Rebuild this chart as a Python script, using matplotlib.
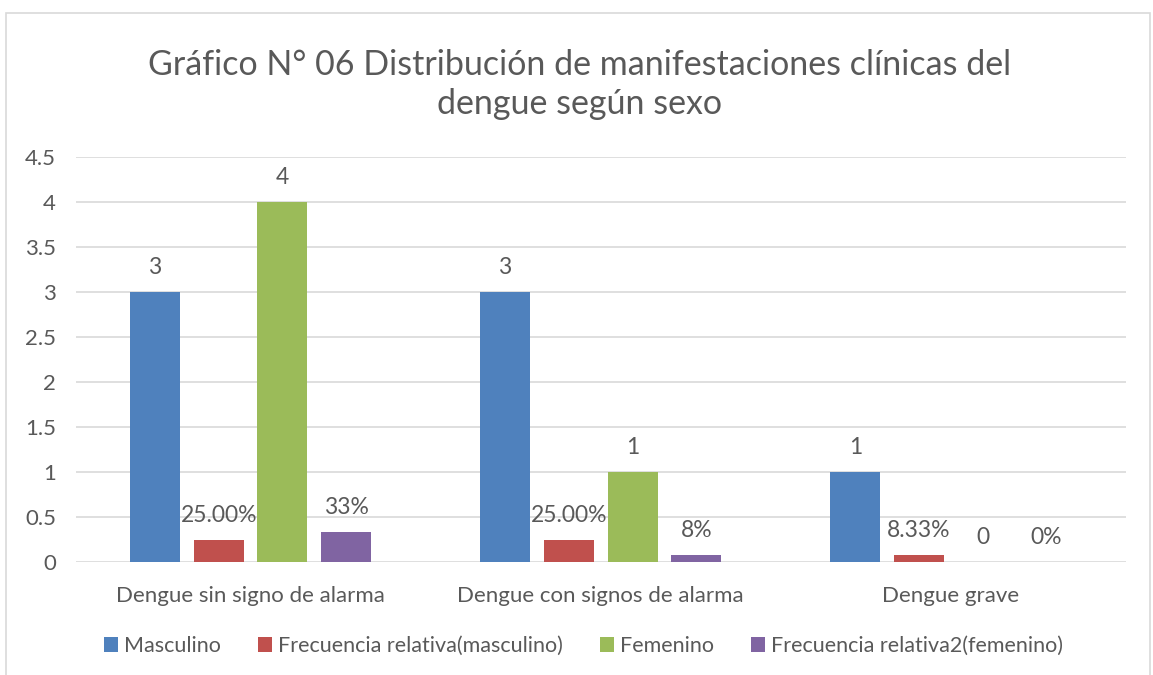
import matplotlib.pyplot as plt
import numpy as np
from matplotlib.patches import Rectangle

categorias = ["Dengue sin signo de alarma", "Dengue con signos de alarma", "Dengue grave"]
series = ["Masculino", "Frecuencia relativa(masculino)", "Femenino", "Frecuencia relativa2(femenino)"]
masculino = [3, 3, 1]
frec_masc = [0.25, 0.25, 0.0833]
femenino = [4, 1, 0]
frec_fem = [0.333, 0.0833, 0]
etiquetas = [
    ["3", "3", "1"],
    ["25.00%", "25.00%", "8.33%"],
    ["4", "1", "0"],
    ["33%", "8%", "0%"],
]
colores = ["#4F81BD", "#C0504D", "#9BBB59", "#8064A2"]

gris = "#595959"
plt.rcParams['font.family'] = ['Lato', 'DejaVu Sans']

fig = plt.figure(figsize=(11.53, 6.75), dpi=100)
ax = fig.add_axes([0.0655, 0.1674, 0.911, 0.600])

# marco del gráfico
fig.patches.append(Rectangle((6/1153, -0.01), 1144/1153, 1 - 13/675 + 0.01, transform=fig.transFigure,
                             fill=False, edgecolor="#D9D9D9", linewidth=1.2))

x = np.arange(len(categorias))
ancho = 0.143
paso = 0.182
datos = [masculino, frec_masc, femenino, frec_fem]
for i, (vals, col) in enumerate(zip(datos, colores)):
    pos = x + (i - 1.5) * paso
    barras = ax.bar(pos, vals, ancho, color=col, label=series[i], zorder=3)
    for b, v, t in zip(barras, vals, etiquetas[i]):
        ax.annotate(t, (b.get_x() + b.get_width() / 2, v), xytext=(0, 17.5),
                    textcoords="offset points", ha="center", va="center",
                    fontsize=16.5, color=gris)

ax.set_xlim(-0.5, 2.5)
ax.set_ylim(0, 4.5)
ax.set_yticks(np.arange(0, 4.51, 0.5))
ax.set_yticklabels(["0", "0.5", "1", "1.5", "2", "2.5", "3", "3.5", "4", "4.5"])
ax.set_xticks(x)
ax.set_xticklabels(categorias)
ax.tick_params(axis="both", length=0, labelsize=16, colors=gris)
ax.tick_params(axis="x", pad=17)
ax.tick_params(axis="y", pad=14)
ax.grid(axis="y", color="#D9D9D9", linewidth=1.2, zorder=0)
for s in ax.spines.values():
    s.set_visible(False)

fig.text(0.503, 0.875, "Gráfico N° 06 Distribución de manifestaciones clínicas del\ndengue según sexo",
         ha="center", va="center", fontsize=24.5, color=gris, linespacing=1.28)

leg = fig.legend(loc="center", bbox_to_anchor=(0.506, 0.043), ncol=4, frameon=False,
                 fontsize=15.5, handlelength=0.65, handleheight=0.65, handletextpad=0.3,
                 columnspacing=1.7)
for t in leg.get_texts():
    t.set_color(gris)

fig.savefig("out.png", dpi=100)
